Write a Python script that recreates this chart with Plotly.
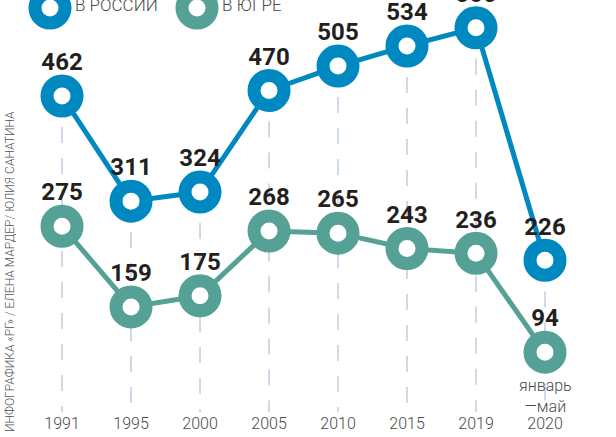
import plotly.graph_objects as go

years = ["1991", "1995", "2000", "2005", "2010", "2015", "2019", "2020"]
russia = [462, 311, 324, 470, 505, 534, 560, 226]
ugra = [275, 159, 175, 268, 265, 243, 236, 94]
russia_name = "В РОССИИ"
ugra_name = "В ЮГРЕ"
last_note = "январь<br>—май"
credit = "ИНФОГРАФИКА «РГ» / ЕЛЕНА МАРДЕР/ ЮЛИЯ САНАТИНА"

BLUE = "#0088c1"
TEAL = "#55a195"
Y_MIN, Y_MAX = 8, 600
TICKFONT = "Roboto, sans-serif"
NUMFONT = "Roboto, sans-serif"

fig = go.Figure()

# vertical dashed guides from Russia value down to axis bottom
gx, gy = [], []
for c, v in zip(years, russia):
    gx += [c, c, None]
    gy += [v, Y_MIN, None]
fig.add_trace(go.Scatter(x=gx, y=gy, mode="lines", hoverinfo="skip",
                         line=dict(color="#9fb4cf", width=1, dash="16px,15px"),
                         showlegend=False))

for name, vals, col in [(ugra_name, ugra, TEAL), (russia_name, russia, BLUE)]:
    fig.add_trace(go.Scatter(
        x=years, y=vals, name=name, mode="lines+markers",
        line=dict(color=col, width=5),
        marker=dict(size=30, color="white", line=dict(color=col, width=13)),
        cliponaxis=False, showlegend=False))

for vals in [ugra, russia]:
    fig.add_trace(go.Scatter(
        x=years, y=vals, mode="markers+text", hoverinfo="skip",
        marker=dict(size=30, opacity=0),
        text=[str(v) for v in vals], textposition="top center",
        textfont=dict(family=NUMFONT, size=24, color="#231f20", weight="bold"),
        cliponaxis=False, showlegend=False))

W, H = 616, 437
MB = 25
PH = H - MB

def px_x(p):
    return p / W

def px_y(p):
    return (PH - p) / PH

shapes = []
annotations = []
for cx, tx, col, name in [(50, 73, BLUE, russia_name), (197, 220, TEAL, ugra_name)]:
    shapes.append(dict(type="circle", xref="paper", yref="paper",
                       xsizemode="pixel", ysizemode="pixel",
                       xanchor=px_x(cx), yanchor=px_y(8),
                       x0=-15, x1=15, y0=-15, y1=15,
                       line=dict(color=col, width=13), fillcolor="white"))
    annotations.append(dict(xref="paper", yref="paper", x=px_x(tx), y=px_y(5),
                            xanchor="left", yanchor="middle", showarrow=False,
                            text=name, font=dict(family="Roboto, sans-serif", size=17,
                                                 color="#4a4a4a", weight=300)))

annotations.append(dict(xref="x", yref="paper", x=len(years) - 1, y=0, yanchor="bottom",
                        xanchor="center", showarrow=False, text=last_note, yshift=-6,
                        font=dict(family=TICKFONT, size=16, color="#4a4a4a", weight=300)))
annotations.append(dict(xref="paper", yref="paper", x=px_x(10), y=px_y(272),
                        xanchor="center", yanchor="middle", showarrow=False,
                        textangle=-90, text=credit,
                        font=dict(family="Roboto, sans-serif", size=12, color="#555", weight=300)))

fig.update_layout(
    width=W, height=H,
    margin=dict(l=0, r=0, t=0, b=MB),
    paper_bgcolor="white", plot_bgcolor="white",
    xaxis=dict(type="category", range=[-0.899, 8.029], showgrid=False, zeroline=False,
               showline=False, ticks="",
               tickfont=dict(family=TICKFONT, size=16, color="#4a4a4a", weight=300),
               fixedrange=True),
    yaxis=dict(range=[Y_MIN, Y_MAX], visible=False, fixedrange=True),
    shapes=shapes, annotations=annotations,
)
fig.write_html("out.html", config={"displayModeBar": False},
               post_script="document.body.style.margin='0';")
